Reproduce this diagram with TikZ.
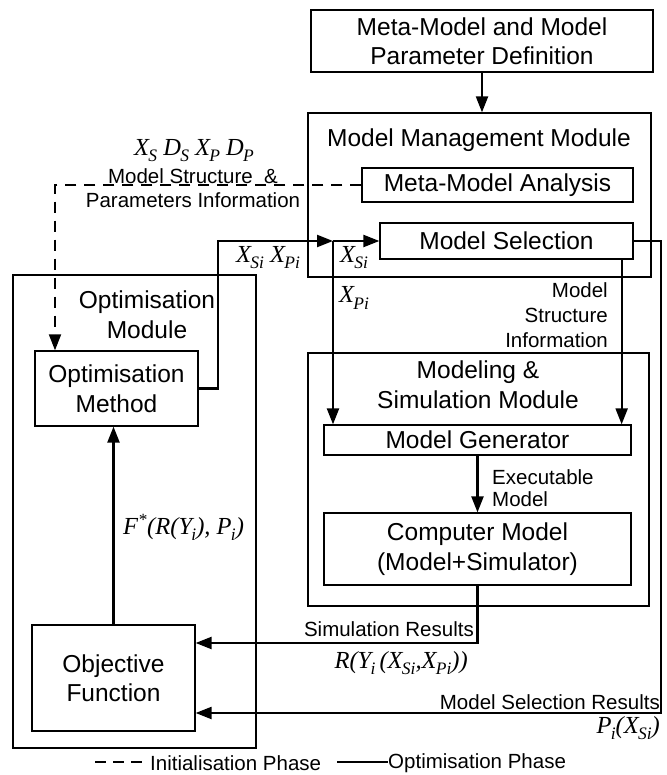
\documentclass[tikz,border=0pt]{standalone}
\usepackage{fontspec}
\setmainfont{Liberation Sans}
\newfontfamily\serifit{Liberation Serif}
\usetikzlibrary{arrows.meta}
\newcommand{\symsub}[2]{#1\kern-.03em\raisebox{-0.25em}{\fontsize{17.5}{17.5}\selectfont #2}}

\begin{document}
\begin{tikzpicture}[x=1pt,y=-1pt,
    box/.style={draw, line width=1.3pt, align=center, inner sep=0pt,
      font=\fontsize{24.5}{29.5}\selectfont},
    title/.style={align=center, inner sep=0pt, font=\fontsize{24.5}{30}\selectfont},
    lbl/.style={align=right, inner sep=0pt, font=\fontsize{20.5}{25}\selectfont},
    mlbl/.style={inner sep=0pt, font=\serifit\itshape\fontsize{24.5}{28}\selectfont},
    flow/.style={line width=2.2pt, -{Triangle[length=16pt,width=12pt]}},
    initflow/.style={line width=1.8pt, dash pattern=on 11pt off 8pt, -{Triangle[length=16pt,width=12pt]}}]
    \useasboundingbox (0,0) rectangle (666,775);

    % Modules
    \node[box, minimum width=343pt, minimum height=164pt] (mmm) at (479.5,195) {};
    \node[title] (mmmtitle) at (479,140) {Model Management Module};
    \node[box, minimum width=243pt, minimum height=473pt] (optmod) at (134.5,511.5) {};
    \node[title] (optmodtitle) at (147,315) {Optimisation\\Module};
    \node[box, minimum width=341pt, minimum height=253pt] (msm) at (478.5,479.5) {};
    \node[title] (msmtitle) at (478,385) {Modeling \&\\Simulation Module};

    % Blocks
    \node[box, minimum width=342pt, minimum height=62pt] (defn) at (482,41) {Meta-Model and Model\\Parameter Definition};
    \node[box, minimum width=271pt, minimum height=34pt] (mma) at (497.5,185) {Meta-Model Analysis};
    \node[box, minimum width=253pt, minimum height=36pt] (msel) at (506.5,241) {Model Selection};
    \node[box, minimum width=163pt, minimum height=75pt] (optm) at (116.5,388.5) {Optimisation\\Method};
    \node[box, minimum width=307pt, minimum height=30pt] (mgen) at (477.5,440) {Model Generator};
    \node[box, minimum width=307pt, minimum height=72pt] (cmod) at (477.5,549) {Computer Model\\(Model+Simulator)};
    \node[box, minimum width=163pt, minimum height=106pt] (obj) at (113.5,678) {Objective\\Function};

    % Initialisation phase
    \draw[flow] (defn.south) -- (defn.south |- mmm.north);
    \coordinate (dashx) at (55,185);
    \draw[initflow] (mma.west) -- (dashx) -- (dashx |- optm.north);
    \node[mlbl] (xsdp) at (194,151) {\symsub{X}{S} \symsub{D}{S} \symsub{X}{P} \symsub{D}{P}};
    \node[lbl, align=center, font=\fontsize{20.5}{24}\selectfont] (msinfo) at (193,188) {Model Structure\ \ \&\\Parameters Information};

    % Optimisation phase
    \coordinate (riser) at (218,241);
    \coordinate (junc) at (333,241);
    \draw[flow] (optm.east) -| (riser) -- (junc);
    \draw[flow] (junc) -- (msel.west);
    \draw[flow] (junc) -- (junc |- mgen.north);
    \node[mlbl] (xsxp) at (268,258) {\symsub{X}{Si} \symsub{X}{Pi}};
    \node[mlbl] (xs) at (354,258) {\symsub{X}{Si}};
    \node[mlbl] (xp) at (354,298) {\symsub{X}{Pi}};

    \draw[flow] ([xshift=-12pt]msel.south east) -- ([xshift=-12pt]msel.south east |- mgen.north);
    \node[lbl, anchor=east] (mstruct) at (608,315) {Model\\Structure\\Information};

    \draw[flow] (mgen.south) -- (cmod.north);
    \node[lbl, anchor=west, align=left, font=\fontsize{20.5}{22}\selectfont] (exec) at (492,488) {Executable\\Model};

    \coordinate (simres) at (477.5,643);
    \draw[flow] (cmod.south) -- (simres) -- (simres -| obj.east);
    \node[lbl, anchor=east] (simlbl) at (474,629) {Simulation Results};
    \node[mlbl, anchor=east] (rlbl) at (468,663) {R(\symsub{Y}{i}\,(\symsub{X}{Si},\symsub{X}{Pi}))};

    \coordinate (edge) at (661,241);
    \coordinate (selres) at (661,713);
    \draw[flow] (msel.east) -- (edge) -- (selres) -- (selres -| obj.east);
    \node[lbl, anchor=east] (sellbl) at (660,702) {Model Selection Results};
    \node[mlbl, anchor=east] (plbl) at (660,728) {\symsub{P}{i}(\symsub{X}{Si})};

    \draw[flow] (obj.north) -- (obj.north |- optm.south);
    \node[mlbl, anchor=west] (flbl) at (123,527) {F\textsuperscript{*}(R(\symsub{Y}{i}), \symsub{P}{i})};

    % Legend
    \coordinate (initA) at (95,762);
    \coordinate (initB) at (148,762);
    \draw[line width=1.8pt, dash pattern=on 11pt off 7pt] (initA) -- (initB);
    \node[lbl, anchor=west] (initlbl) at (150,763) {Initialisation Phase};
    \coordinate (optA) at (337,762);
    \coordinate (optB) at (388,762);
    \draw[line width=1.2pt] (optA) -- (optB);
    \node[lbl, anchor=west] (optlbl) at (388,763) {Optimisation Phase};
\end{tikzpicture}
\end{document}
